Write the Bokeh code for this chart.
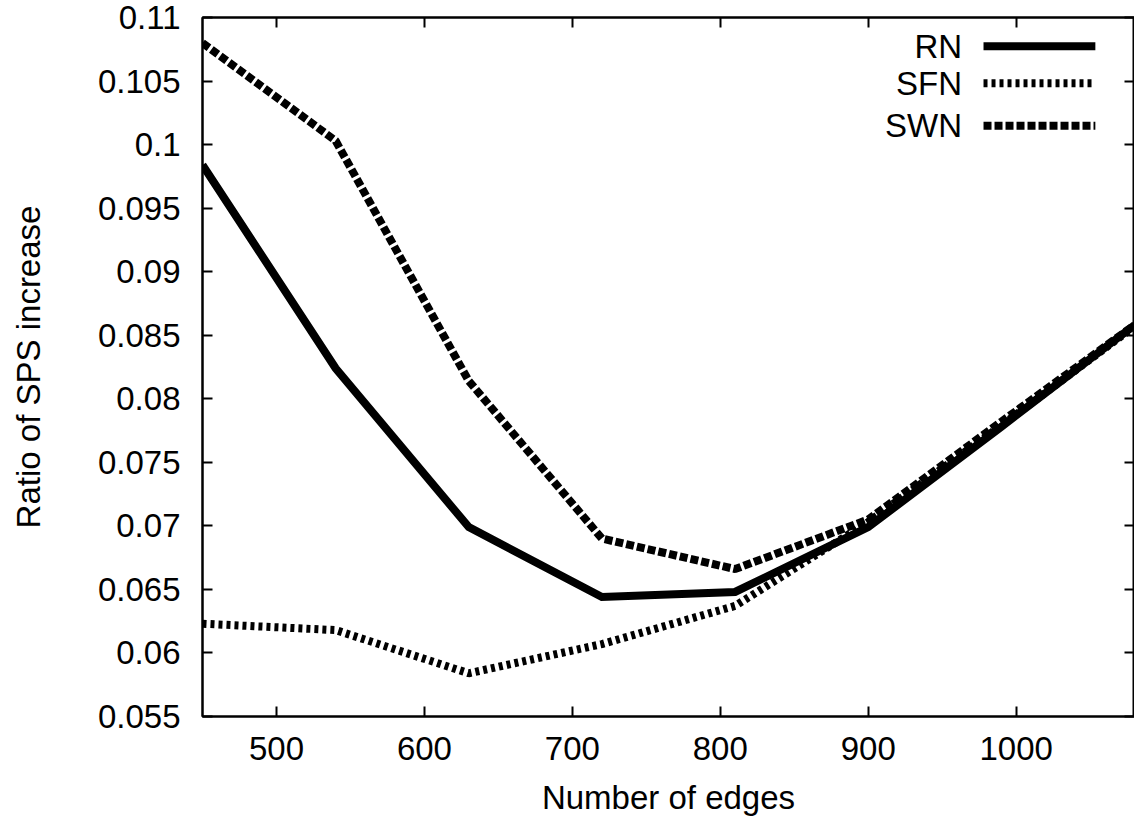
from bokeh.plotting import figure
from bokeh.models import LinearAxis, FixedTicker, Range1d, Label
from bokeh.embed import file_html
from bokeh.resources import INLINE

# ---- data ----
edges = [450, 540, 630, 720, 810, 900, 990, 1080]
rn = [0.0984, 0.0824, 0.0699, 0.0644, 0.0648, 0.0699, 0.0778, 0.0858]
sfn = [0.0623, 0.0618, 0.0584, 0.0607, 0.0637, 0.0703, 0.0779, 0.0857]
swn = [0.1080, 0.1003, 0.0814, 0.0690, 0.0666, 0.0705, 0.0782, 0.0858]

x_ticks = [500, 600, 700, 800, 900, 1000]
y_ticks = [0.055, 0.06, 0.065, 0.07, 0.075, 0.08, 0.085, 0.09, 0.095, 0.1, 0.105, 0.11]
y_tick_labels = ["0.055", "0.06", "0.065", "0.07", "0.075", "0.08", "0.085",
                 "0.09", "0.095", "0.1", "0.105", "0.11"]
series_names = ["RN", "SFN", "SWN"]

FONT = "Liberation Sans"
FS = "33px"

x_start, x_end = 450, 1080
y_start, y_end = 0.055, 0.11

p = figure(width=1134, height=819, output_backend="svg", toolbar_location=None,
           x_range=Range1d(x_start, x_end), y_range=Range1d(y_start, y_end),
           min_border_left=202, min_border_top=17, min_border_right=0,
           min_border_bottom=103)
p.grid.visible = False
p.outline_line_color = "black"
p.outline_line_width = 2
p.background_fill_color = "white"
p.border_fill_color = "white"

def style_axis(ax, labels=True):
    ax.axis_line_width = 2
    ax.axis_line_color = "black"
    ax.major_tick_in = 10
    ax.major_tick_out = 0
    ax.minor_tick_in = 0
    ax.minor_tick_out = 0
    ax.major_tick_line_width = 2
    ax.major_label_text_font = FONT
    ax.major_label_text_font_size = FS
    ax.major_label_text_color = "black"
    ax.axis_label_text_font = FONT
    ax.axis_label_text_font_size = FS
    ax.axis_label_text_font_style = "normal"
    ax.axis_label_text_color = "black"
    if not labels:
        ax.major_label_text_font_size = "0px"
        ax.major_label_text_alpha = 0
        ax.major_label_standoff = 0

xa = p.xaxis[0]
ya = p.yaxis[0]
style_axis(xa)
style_axis(ya)
xa.ticker = FixedTicker(ticks=x_ticks)
ya.ticker = FixedTicker(ticks=y_ticks)
ya.major_label_overrides = {t: l for t, l in zip(y_ticks, y_tick_labels)}
xa.axis_label = "Number of edges"
ya.axis_label = "Ratio of SPS increase"
xa.major_label_standoff = 20
ya.major_label_standoff = 22
xa.axis_label_standoff = 16
ya.axis_label_standoff = 48

top = LinearAxis(ticker=FixedTicker(ticks=x_ticks))
style_axis(top, labels=False)
p.add_layout(top, "above")
right = LinearAxis(ticker=FixedTicker(ticks=y_ticks))
style_axis(right, labels=False)
p.add_layout(right, "right")

SFN_DASH = "4 4"
SWN_DASH = "8 3"

# ---- series ----
p.line(edges, rn, line_color="black", line_width=8, line_join="miter")
p.line(edges, sfn, line_color="black", line_width=8, line_dash=SFN_DASH)
p.line(edges, swn, line_color="black", line_width=8, line_dash=SWN_DASH)

# ---- gnuplot-style key (label left, sample right) ----
def to_x(frac):
    return x_start + (x_end - x_start) * frac

def to_y(frac):
    return y_end - (y_end - y_start) * frac

key_rows = [0.041, 0.094, 0.155]
styles = [dict(line_dash="solid"), dict(line_dash=SFN_DASH), dict(line_dash=SWN_DASH)]
for name, fr, st in zip(series_names, key_rows, styles):
    p.add_layout(Label(x=to_x(0.815), y=to_y(fr), text=name, text_font=FONT,
                       text_font_size=FS, text_align="right",
                       text_baseline="middle", text_color="black"))
    p.line([to_x(0.838), to_x(0.958)], [to_y(fr), to_y(fr)], line_color="black",
           line_width=8, **st)

open("out.html", "w").write(file_html(p, INLINE))
